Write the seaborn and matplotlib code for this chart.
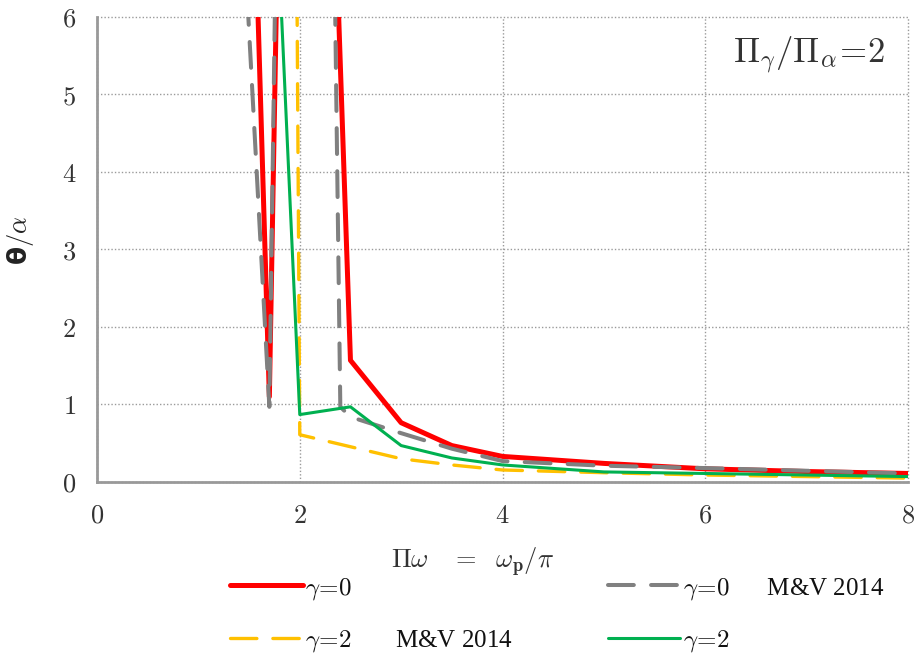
import matplotlib
matplotlib.use("Agg")
import matplotlib.pyplot as plt
import seaborn as sns
import pandas as pd

# Normalised rotation vs. frequency ratio, four model curves
red_x = [1.5, 1.7, 1.8, 2.3, 2.5, 3.0, 3.5, 4.0, 5.0, 6.0, 7.0, 8.0]
red_y = [9.9, 1.1, 8.4, 9.2, 1.57, 0.765, 0.47, 0.33, 0.24, 0.17, 0.135, 0.11]

gray_x = [1.41, 1.70, 1.775, 2.33, 2.40, 2.50, 3.0, 3.5, 4.0, 5.0, 6.0, 7.0, 8.0]
gray_y = [8.0, 0.97, 8.0, 8.0, 0.97, 0.84, 0.63, 0.43, 0.27, 0.21, 0.18, 0.145, 0.11]

yellow_x = [1.95, 2.0, 3.0, 3.5, 4.0, 5.0, 6.0, 7.0, 8.0]
yellow_y = [11.0, 0.61, 0.30, 0.22, 0.155, 0.12, 0.09, 0.07, 0.05]

green_x = [1.8, 2.0, 2.5, 3.0, 3.5, 4.0, 5.0, 6.0, 7.0, 8.0]
green_y = [6.6, 0.87, 0.97, 0.47, 0.31, 0.22, 0.13, 0.11, 0.09, 0.07]

labels = [r"$\gamma\!=\!0$",
          r"$\gamma\!=\!0$      M&V 2014",
          r"$\gamma\!=\!2$       M&V 2014",
          r"$\gamma\!=\!2$"]

x_ticks = [0, 2, 4, 6, 8]
x_tick_labels = ["0", "2", "4", "6", "8"]
y_ticks = [0, 1, 2, 3, 4, 5, 6]
y_tick_labels = ["0", "1", "2", "3", "4", "5", "6"]

sns.set_style("white")
plt.rcParams["mathtext.fontset"] = "cm"
plt.rcParams["lines.scale_dashes"] = False

fig = plt.figure(figsize=(9.18, 6.64), dpi=100)
ax = fig.add_axes([0.1057, 0.2741, 0.8834, 0.7003])

series = [
    (red_x, red_y, dict(color="#FF0000", linewidth=3.6, linestyle="-")),
    (gray_x, gray_y, dict(color="#808080", linewidth=2.9, linestyle=(0, (18.6, 12.4)), dash_capstyle="round")),
    (yellow_x, yellow_y, dict(color="#FFC000", linewidth=2.4, linestyle=(0, (19.0, 11.5)), dash_capstyle="round")),
    (green_x, green_y, dict(color="#00B050", linewidth=2.2, linestyle="-")),
]

handles = []
for (xs, ys, style), lab in zip(series, labels):
    df = pd.DataFrame({"x": xs, "y": ys})
    n_before = len(ax.lines)
    sns.lineplot(data=df, x="x", y="y", ax=ax, sort=False, estimator=None,
                 solid_capstyle="round", solid_joinstyle="round", **style)
    line = ax.lines[n_before]
    line.set_label(lab)
    handles.append(line)

if ax.get_legend() is not None:
    ax.get_legend().remove()

ax.set_xlim(0, 8)
ax.set_ylim(0, 6)
ax.set_xticks(x_ticks)
ax.set_xticklabels([f"${t}$" for t in x_tick_labels])
ax.set_yticks(y_ticks)
ax.set_yticklabels([f"${t}$" for t in y_tick_labels])

ax.grid(True, color="#9a9a9a", linestyle=(0, (1, 1.5)), linewidth=1.0)
ax.set_axisbelow(True)
for gl in ax.get_xgridlines() + ax.get_ygridlines():
    gl.set_clip_on(False)
for side in ["top", "right"]:
    ax.spines[side].set_visible(False)
for side in ["left", "bottom"]:
    ax.spines[side].set_color("#999999")
    ax.spines[side].set_linewidth(2.0)
ax.tick_params(axis="both", direction="out", length=7, width=1.5, color="#999999",
               labelsize=19, labelcolor="#333333", pad=8)

ax.set_xlabel(r"$\Pi\omega\ \ \ =\ \ \omega_{\mathbf{p}}/\pi$", fontsize=19, color="#333333")
ax.xaxis.set_label_coords(0.463, -0.135)
ax.set_ylabel(r"θ$/\alpha$", fontsize=19, fontweight="bold", color="#222222",
              family="DejaVu Sans")
ax.yaxis.set_label_coords(-0.075, 0.52)

ax.text(0.878, 0.918, r"$\Pi_\gamma/\Pi_\alpha\!=\!2$", transform=ax.transAxes,
        ha="center", va="center", fontsize=25, color="#333333")

order = [0, 2, 1, 3]
fig.legend([handles[i] for i in order], [labels[i] for i in order],
           loc="center", bbox_to_anchor=(0.607, 0.074), ncol=2, frameon=False,
           prop={"family": "Liberation Serif", "size": 18},
           handlelength=2.9, handletextpad=0.1, columnspacing=3.8,
           labelspacing=1.05, labelcolor="#111111")

fig.savefig("out.png", dpi=100)
